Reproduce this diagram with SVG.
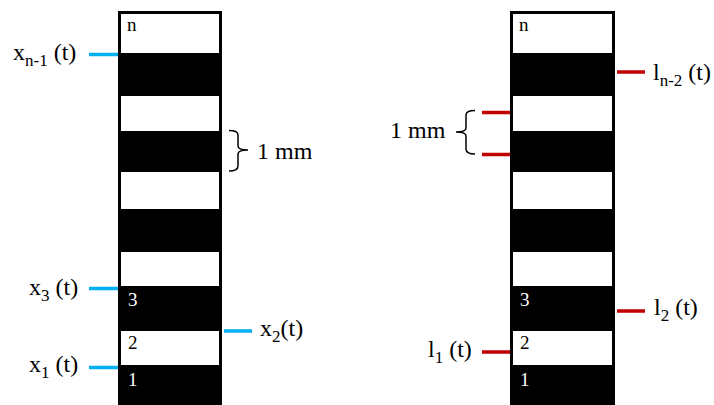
<svg xmlns="http://www.w3.org/2000/svg" width="714" height="405" viewBox="0 0 714 405">
<style>
text{font-family:'Liberation Serif','Times New Roman',Times,'DejaVu Serif',serif}
.lbl{font-size:24px;fill:#000}
.sub{font-size:17px}
.num{font-size:19px}
.w{fill:#fff}
.k{fill:#000}
.blue{stroke:#00B0F0;stroke-width:3.5}
.red{stroke:#C00000;stroke-width:3.5}
.brace{fill:none;stroke:#000;stroke-width:1.5}
</style>
<rect width="714" height="405" fill="#fff"/>
<g id="strip-left">
<rect x="118" y="11" width="104" height="400" class="k"/>
<rect x="121" y="14" width="98" height="39" class="w"/>
<rect x="121" y="96" width="98" height="35" class="w"/>
<rect x="121" y="172" width="98" height="37" class="w"/>
<rect x="121" y="252" width="98" height="34" class="w"/>
<rect x="121" y="331" width="98" height="34" class="w"/>
<text x="127" y="31" class="num k">n</text>
<text x="128" y="306" class="num w">3</text>
<text x="128" y="349" class="num k">2</text>
<text x="128" y="386" class="num w">1</text>
</g>
<g id="strip-right">
<rect x="510" y="11" width="105" height="400" class="k"/>
<rect x="513" y="14" width="99" height="39" class="w"/>
<rect x="513" y="96" width="99" height="35" class="w"/>
<rect x="513" y="172" width="99" height="37" class="w"/>
<rect x="513" y="252" width="99" height="34" class="w"/>
<rect x="513" y="331" width="99" height="34" class="w"/>
<text x="519" y="31" class="num k">n</text>
<text x="520" y="306" class="num w">3</text>
<text x="520" y="349" class="num k">2</text>
<text x="520" y="386" class="num w">1</text>
</g>
<g id="connectors">
<line x1="89" y1="54.5" x2="118" y2="54.5" class="blue"/>
<line x1="89" y1="288.5" x2="118" y2="288.5" class="blue"/>
<line x1="89" y1="367.5" x2="118" y2="367.5" class="blue"/>
<line x1="224" y1="331" x2="252" y2="331" class="blue"/>
<line x1="617" y1="72" x2="645" y2="72" class="red"/>
<line x1="482" y1="112.5" x2="510" y2="112.5" class="red"/>
<line x1="482" y1="154.5" x2="510" y2="154.5" class="red"/>
<line x1="617" y1="311" x2="645" y2="311" class="red"/>
<line x1="482" y1="352" x2="510" y2="352" class="red"/>
<path class="brace" d="M229,130.5 Q238,130.5 238,135 L238,146 Q238,150 248,150 Q238,150 238,154 L238,166 Q238,171 229,171"/>
<path class="brace" d="M475,110.5 Q466,110.5 466,115 L466,128 Q466,132 456,132 Q466,132 466,136 L466,149 Q466,154 475,154"/>
</g>
<g id="labels">
<text x="13" y="60" class="lbl">x<tspan class="sub" dy="6">n-1</tspan><tspan dy="-6"> (t)</tspan></text>
<text x="29" y="295" class="lbl">x<tspan class="sub" dy="6">3</tspan><tspan dy="-6"> (t)</tspan></text>
<text x="29" y="372" class="lbl">x<tspan class="sub" dy="6">1</tspan><tspan dy="-6"> (t)</tspan></text>
<text x="260" y="336" class="lbl">x<tspan class="sub" dy="6">2</tspan><tspan dy="-6">(t)</tspan></text>
<text x="257" y="159" class="lbl">1 mm</text>
<text x="390" y="138" class="lbl">1 mm</text>
<text x="653" y="80" class="lbl">l<tspan class="sub" dy="6">n-2</tspan><tspan dy="-6"> (t)</tspan></text>
<text x="654" y="315" class="lbl">l<tspan class="sub" dy="6">2</tspan><tspan dy="-6"> (t)</tspan></text>
<text x="428" y="357" class="lbl">l<tspan class="sub" dy="6">1</tspan><tspan dy="-6"> (t)</tspan></text>
</g>
</svg>
